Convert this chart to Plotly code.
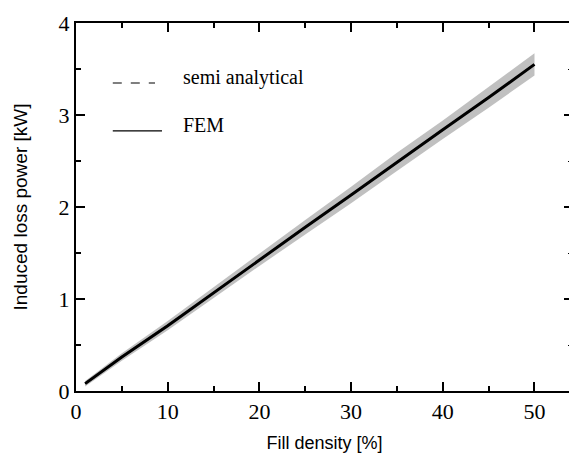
import plotly.graph_objects as go

fill_density = [1, 5, 10, 15, 20, 25, 30, 35, 40, 45, 50]
fem = [0.08, 0.37, 0.71, 1.07, 1.43, 1.78, 2.13, 2.49, 2.84, 3.19, 3.55]
semi_analytical = [0.08, 0.37, 0.71, 1.07, 1.43, 1.78, 2.13, 2.49, 2.84, 3.19, 3.55]
band_upper = [0.11, 0.41, 0.76, 1.13, 1.50, 1.86, 2.22, 2.59, 2.94, 3.30, 3.67]
band_lower = [0.05, 0.33, 0.66, 1.01, 1.36, 1.70, 2.04, 2.39, 2.74, 3.08, 3.43]

x_ticks = [0, 10, 20, 30, 40, 50]
y_ticks = [0, 1, 2, 3, 4]

serif = "Liberation Serif, Times New Roman, serif"
sans = "Liberation Sans, Arial, sans-serif"

fig = go.Figure()
fig.add_trace(go.Scatter(x=fill_density, y=band_lower, mode="lines",
                         line=dict(width=0), showlegend=False, hoverinfo="skip"))
fig.add_trace(go.Scatter(x=fill_density, y=band_upper, mode="lines",
                         line=dict(width=0), fill="tonexty",
                         fillcolor="rgba(140,140,140,0.55)", showlegend=False, hoverinfo="skip"))
fig.add_trace(go.Scatter(x=fill_density, y=semi_analytical, mode="lines",
                         line=dict(color="black", width=1.5, dash="dash"), name="semi analytical",
                         showlegend=False))
fig.add_trace(go.Scatter(x=fill_density, y=fem, mode="lines",
                         line=dict(color="black", width=3), name="FEM", showlegend=False))
# invisible trace carrying the right-hand tick axis (no line, like the original)
fig.add_trace(go.Scatter(x=[None], y=[None], yaxis="y2", showlegend=False, hoverinfo="skip"))

fig.update_layout(
    width=569, height=461,
    margin=dict(l=68, r=4, t=15, b=78),
    plot_bgcolor="white", paper_bgcolor="white",
    xaxis=dict(range=[0, 54.2], tickvals=x_ticks, ticktext=[str(v) for v in x_ticks],
               ticks="inside", ticklen=9, tickwidth=2, tickcolor="black",
               minor=dict(dtick=5, tick0=0, ticks="inside", ticklen=5, tickwidth=1.5, tickcolor="black"),
               showline=True, linecolor="black", linewidth=2, mirror="ticks",
               showgrid=False, zeroline=False,
               tickfont=dict(family=serif, size=22, color="black"),
               title=dict(text="Fill density [%]", font=dict(family=sans, size=18, color="black"),
                          standoff=13)),
    yaxis=dict(range=[0, 4], tickvals=y_ticks, ticktext=[str(v) for v in y_ticks],
               ticks="inside", ticklen=9, tickwidth=2, tickcolor="black",
               minor=dict(dtick=0.5, tick0=0, ticks="inside", ticklen=5, tickwidth=1.5, tickcolor="black"),
               showline=True, linecolor="black", linewidth=2,
               showgrid=False, zeroline=False,
               tickfont=dict(family=serif, size=22, color="black"),
               title=dict(text="Induced loss power [kW]", font=dict(family=sans, size=19, color="black"),
                          standoff=26)),
    yaxis2=dict(overlaying="y", side="right", range=[0, 4], tickvals=y_ticks,
                showticklabels=False, ticks="inside", ticklen=9, tickwidth=2, tickcolor="black",
                minor=dict(dtick=0.5, tick0=0, ticks="inside", ticklen=5, tickwidth=1, tickcolor="black"),
                showline=False, showgrid=False, zeroline=False),
)

# legend drawn manually to match spacing of the original
fig.add_shape(type="line", xref="paper", yref="paper", x0=0.074, x1=0.159, y0=0.837, y1=0.837,
              line=dict(color="black", width=1.2, dash="dash"))
fig.add_shape(type="line", xref="paper", yref="paper", x0=0.074, x1=0.173, y0=0.707, y1=0.707,
              line=dict(color="black", width=1.2))
fig.add_annotation(xref="paper", yref="paper", x=0.211, y=0.851, xanchor="left", yanchor="middle",
                   text="semi analytical", showarrow=False,
                   font=dict(family=serif, size=20, color="black"))
fig.add_annotation(xref="paper", yref="paper", x=0.211, y=0.724, xanchor="left", yanchor="middle",
                   text="FEM", showarrow=False,
                   font=dict(family=serif, size=20, color="black"))

fig.write_html("out.html")
